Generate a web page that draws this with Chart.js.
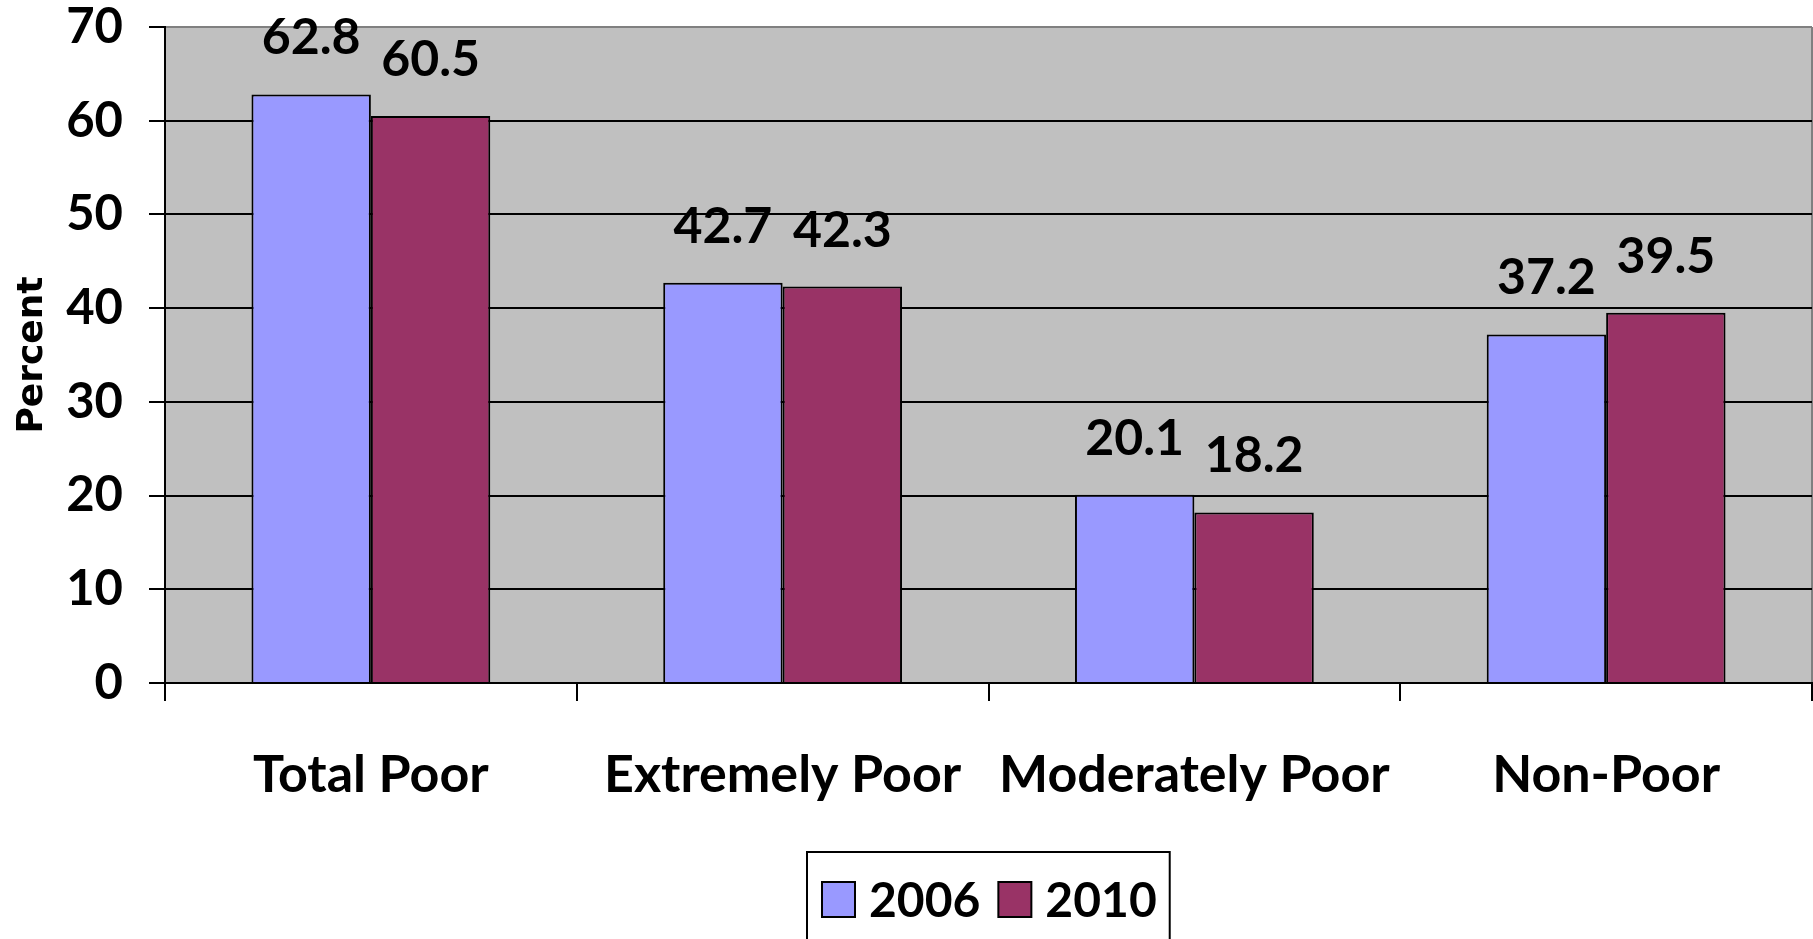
<!DOCTYPE html>
<html>
<head>
<meta charset="utf-8">
<script src="https://cdn.jsdelivr.net/npm/chart.js@4.4.0/dist/chart.umd.min.js"></script>
<style>
html,body{margin:0;padding:0;background:#fff;}
#wrap{width:1813px;height:939px;}
</style>
</head>
<body>
<div id="wrap"><canvas id="c" width="1813" height="939"></canvas></div>
<script>
const categories = ['Total Poor', 'Extremely Poor', 'Moderately Poor', 'Non-Poor'];
const seriesNames = ['2006', '2010'];
const values2006 = [62.8, 42.7, 20.1, 37.2];
const values2010 = [60.5, 42.3, 18.2, 39.5];
const yMin = 0, yMax = 70, yStep = 10;
const yTitle = 'Percent';

const FONT = 'Lato, "Open Sans", sans-serif';
const colors = ['#9999FF', '#993366'];

const plotBg = {
  id: 'plotBg',
  beforeDraw(chart) {
    const {ctx, chartArea: a} = chart;
    ctx.save();
    ctx.fillStyle = '#C0C0C0';
    ctx.fillRect(a.left, a.top, a.right - a.left, a.bottom - a.top);
    ctx.strokeStyle = '#808080';
    ctx.lineWidth = 2;
    ctx.beginPath();
    ctx.moveTo(a.right, a.top);
    ctx.lineTo(a.right, a.bottom);
    ctx.stroke();
    ctx.restore();
  }
};

const valueLabels = {
  id: 'valueLabels',
  afterDatasetsDraw(chart) {
    const ctx = chart.ctx;
    ctx.save();
    ctx.font = 'bold 50px ' + FONT;
    ctx.fillStyle = '#000';
    ctx.textAlign = 'center';
    ctx.textBaseline = 'alphabetic';
    chart.data.datasets.forEach((ds, i) => {
      chart.getDatasetMeta(i).data.forEach((bar, j) => {
        ctx.fillText(ds.data[j].toFixed(1), bar.x, bar.y - 40);
      });
    });
    ctx.restore();
  }
};

const boxedLegend = {
  id: 'boxedLegend',
  afterDraw(chart) {
    const ctx = chart.ctx;
    const a = chart.chartArea;
    ctx.save();
    ctx.font = 'bold 48px ' + FONT;
    const sq = 33, padL = 15, gapSq = 14, gapItem = 18, padR = 13;
    const items = chart.data.datasets.map(d => ({label: d.label, color: d.backgroundColor, w: ctx.measureText(d.label).width}));
    let total = padL + padR;
    items.forEach((it, k) => { total += sq + gapSq + it.w + (k < items.length - 1 ? gapItem : 0); });
    const cx = (a.left + a.right) / 2;
    const left = Math.round(cx - total / 2);
    const top = 852;
    ctx.strokeStyle = '#000';
    ctx.lineWidth = 2;
    ctx.strokeRect(left, top, total, 120);
    let x = left + padL;
    const midY = 899;
    items.forEach((it) => {
      ctx.fillStyle = it.color;
      ctx.fillRect(x, midY - 17, sq, 35);
      ctx.lineWidth = 2;
      ctx.strokeStyle = '#000';
      ctx.strokeRect(x, midY - 17, sq, 35);
      x += sq + gapSq;
      ctx.fillStyle = '#000';
      ctx.textBaseline = 'alphabetic';
      ctx.textAlign = 'left';
      ctx.fillText(it.label, x, 917);
      x += it.w + gapItem;
    });
    ctx.restore();
  }
};

new Chart(document.getElementById('c'), {
  type: 'bar',
  data: {
    labels: categories,
    datasets: [
      {label: seriesNames[0], data: values2006, backgroundColor: colors[0], borderColor: '#000', borderWidth: 2,
       categoryPercentage: 0.58, barPercentage: 1.0},
      {label: seriesNames[1], data: values2010, backgroundColor: colors[1], borderColor: '#000', borderWidth: 2,
       categoryPercentage: 0.58, barPercentage: 1.0}
    ]
  },
  options: {
    responsive: false,
    animation: false,
    devicePixelRatio: 1,
    layout: {padding: {top: 27, right: 1, left: 0, bottom: 0}},
    plugins: {legend: {display: false}, tooltip: {enabled: false}},
    scales: {
      x: {
        offset: true,
        grid: {display: true, offset: true, drawOnChartArea: false, drawTicks: true, tickLength: 18, color: '#000', lineWidth: 2},
        border: {display: true, color: '#000', width: 2},
        ticks: {color: '#000', font: {family: FONT, size: 52, weight: 'bold', lineHeight: 1}, padding: 48, maxRotation: 0, autoSkip: false},
        afterFit(scale) { scale.height = 256; scale.paddingLeft = 0; scale.paddingRight = 0; }
      },
      y: {
        min: yMin, max: yMax,
        grid: {
          color: (c) => (c.tick && c.tick.value === yMax) ? '#808080' : '#000',
          tickColor: '#000', lineWidth: 2, tickLength: 16, drawTicks: true
        },
        border: {display: true, color: '#000', width: 2},
        ticks: {stepSize: yStep, color: '#000', font: {family: FONT, size: 49, weight: 'bold', lineHeight: 1}, padding: 26},
        title: {display: true, text: yTitle, color: '#000', font: {family: '"DejaVu Sans", sans-serif', size: 36, weight: 'bold', lineHeight: 1}, padding: {top: 15, bottom: 0}},
        afterFit(scale) { scale.width = 165; scale.paddingTop = 0; scale.paddingBottom = 0; }
      }
    }
  },
  plugins: [plotBg, valueLabels, boxedLegend]
});
</script>
</body>
</html>
